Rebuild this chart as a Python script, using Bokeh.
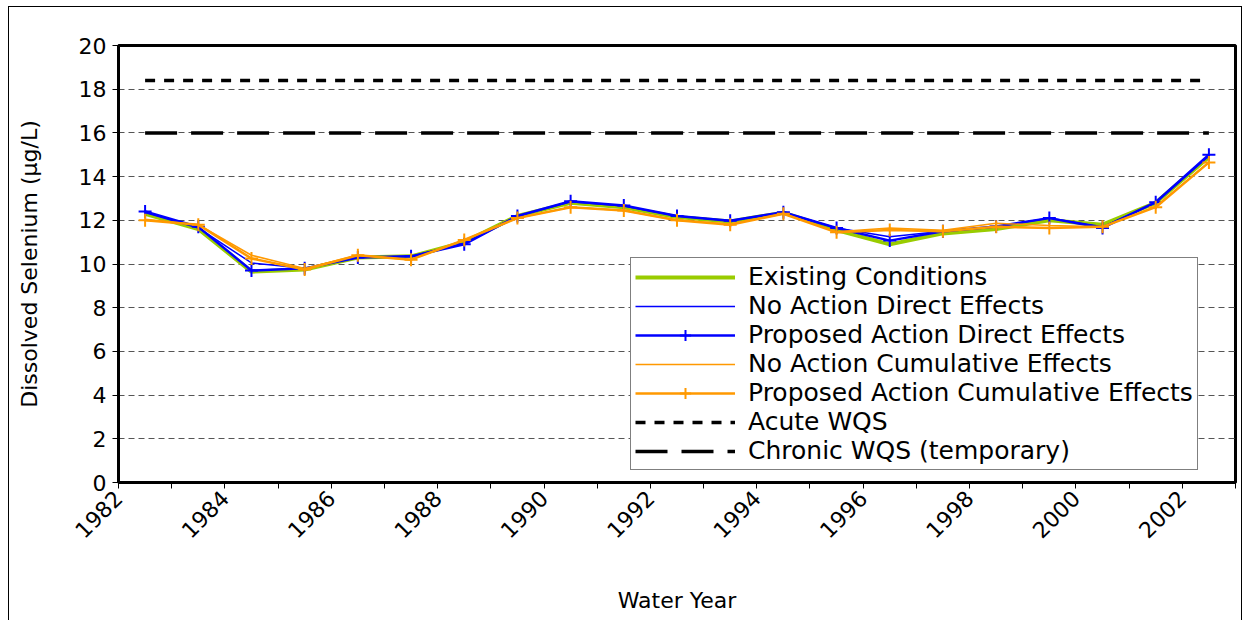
import math
from bokeh.plotting import figure
from bokeh.models import FixedTicker, Legend, LegendItem
from bokeh.embed import file_html
from bokeh.resources import INLINE

# ---- data ----
years = [1982, 1983, 1984, 1985, 1986, 1987, 1988, 1989, 1990, 1991, 1992,
         1993, 1994, 1995, 1996, 1997, 1998, 1999, 2000, 2001, 2002]

existing = [12.3, 11.6, 9.65, 9.75, 10.3, 10.35, 11.0, 12.2, 12.8, 12.6, 12.15,
            11.95, 12.35, 11.55, 10.9, 11.4, 11.6, 12.0, 11.8, 12.8, 14.9]
no_action_direct = [12.35, 11.65, 10.05, 9.8, 10.3, 10.35, 10.95, 12.2, 12.85, 12.65, 12.2,
                    11.98, 12.37, 11.65, 11.25, 11.5, 11.7, 12.1, 11.7, 12.8, 14.95]
proposed_direct = [12.4, 11.7, 9.7, 9.8, 10.3, 10.35, 10.9, 12.2, 12.87, 12.68, 12.2,
                   11.98, 12.37, 11.65, 11.07, 11.5, 11.72, 12.1, 11.65, 12.83, 15.0]
no_action_cumulative = [12.05, 11.8, 10.4, 9.8, 10.4, 10.2, 11.1, 12.1, 12.6, 12.45, 12.0,
                        11.83, 12.3, 11.48, 11.65, 11.55, 11.87, 11.76, 11.7, 12.63, 14.65]
proposed_cumulative = [12.0, 11.8, 10.25, 9.75, 10.4, 10.2, 11.1, 12.1, 12.6, 12.45, 12.0,
                       11.8, 12.3, 11.45, 11.56, 11.5, 11.7, 11.65, 11.7, 12.6, 14.65]
acute_wqs = 18.4
chronic_wqs = 16.0

y_ticks = [0, 2, 4, 6, 8, 10, 12, 14, 16, 18, 20]
x_ticks = list(range(1982, 2004))

# positions: centre of each year
xs = [y + 0.5 for y in years]
acute = [acute_wqs] * len(years)
chronic = [chronic_wqs] * len(years)

FONT = "DejaVu Sans"

p = figure(width=1234, height=614, output_backend="svg", toolbar_location=None,
           x_range=(1982, 2003), y_range=(0, 20),
           min_border_left=109, min_border_right=8, min_border_top=38, min_border_bottom=139)
p.styles = {"margin-left": "8px", "margin-top": "6px",
            "border-left": "1px solid #000000", "border-top": "1px solid #000000",
            "border-right": "1px solid #000000"}

p.outline_line_color = "black"
p.outline_line_width = 3
p.xgrid.grid_line_color = None
p.ygrid.grid_line_color = "#555555"
p.ygrid.grid_line_dash = "6 4"
p.ygrid.grid_line_width = 1
p.ygrid.ticker = FixedTicker(ticks=y_ticks)

p.yaxis.ticker = FixedTicker(ticks=y_ticks)
p.xaxis.ticker = FixedTicker(ticks=x_ticks)
p.xaxis.major_label_overrides = {t: ("" if t % 2 else str(t)) for t in x_ticks}
p.xaxis.major_label_orientation = math.pi / 4
for ax in (p.xaxis, p.yaxis):
    ax.axis_line_color = "black"
    ax.axis_line_width = 3
    ax.major_tick_in = 0
    ax.major_tick_out = 6
    ax.major_tick_line_color = "black"
    ax.minor_tick_line_color = None
    ax.major_label_text_font = FONT
    ax.major_label_text_font_size = "22px"
    ax.major_label_text_color = "black"
    ax.axis_label_text_font = FONT
    ax.axis_label_text_font_size = "22px"
    ax.axis_label_text_font_style = "normal"
    ax.axis_label_text_color = "black"
p.xaxis.major_label_standoff = 6
p.yaxis.major_label_standoff = 6
p.xaxis.axis_label = "Water Year"
p.yaxis.axis_label = "Dissolved Selenium (\u00b5g/L)"
p.xaxis.axis_label_standoff = 40
p.yaxis.axis_label_standoff = 34

GREEN = "#99CC00"
BLUE = "#0000FF"
ORANGE = "#FF9900"

r_ex = p.line(xs, existing, line_color=GREEN, line_width=4)
r_nad = p.line(xs, no_action_direct, line_color=BLUE, line_width=1.5)
r_pad = p.line(xs, proposed_direct, line_color=BLUE, line_width=2.5)
r_pad_m = p.scatter(xs, proposed_direct, marker="cross", size=13, line_color=BLUE, line_width=2)
r_nac = p.line(xs, no_action_cumulative, line_color=ORANGE, line_width=1.5)
r_pac = p.line(xs, proposed_cumulative, line_color=ORANGE, line_width=2.5)
r_pac_m = p.scatter(xs, proposed_cumulative, marker="cross", size=13, line_color=ORANGE, line_width=2)
r_acute = p.line(xs, acute, line_color="black", line_width=3.5, line_dash="10 9")
r_chronic = p.line(xs, chronic, line_color="black", line_width=3.5, line_dash="32 14")

legend = Legend(items=[
    LegendItem(label="Existing Conditions", renderers=[r_ex]),
    LegendItem(label="No Action Direct Effects", renderers=[r_nad]),
    LegendItem(label="Proposed Action Direct Effects", renderers=[r_pad, r_pad_m]),
    LegendItem(label="No Action Cumulative Effects", renderers=[r_nac]),
    LegendItem(label="Proposed Action Cumulative Effects", renderers=[r_pac, r_pac_m]),
    LegendItem(label="Acute WQS", renderers=[r_acute]),
    LegendItem(label="Chronic WQS (temporary)", renderers=[r_chronic]),
], location=(512, 12))
legend.border_line_color = "black"
legend.border_line_width = 1
legend.background_fill_color = "white"
legend.background_fill_alpha = 1
legend.label_text_font = FONT
legend.label_text_font_size = "25px"
legend.label_text_color = "black"
legend.glyph_width = 100
legend.glyph_height = 28
legend.label_height = 28
legend.spacing = 0
legend.padding = 4
legend.margin = 0
legend.label_standoff = 13
p.add_layout(legend, "center")

open("out.html", "w").write(file_html(p, INLINE))
